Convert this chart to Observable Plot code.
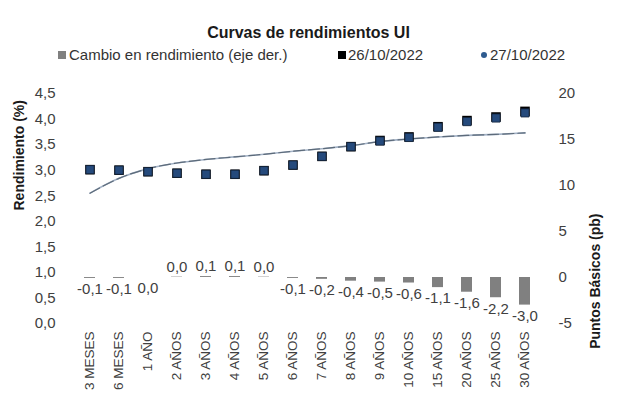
<!DOCTYPE html>
<html><head><meta charset="utf-8">
<script src="https://cdn.jsdelivr.net/npm/d3@7"></script>
<script src="https://cdn.jsdelivr.net/npm/@observablehq/plot@0.6"></script>
<style>
body{margin:0;background:#fff;font-family:"Liberation Sans",Arial,sans-serif;}
#wrap{position:relative;width:617px;height:398px;overflow:hidden;}
#title{position:absolute;left:0;top:23px;width:617px;text-align:center;font-weight:bold;font-size:16px;line-height:20px;color:#1a1a1a;}
#legend{position:absolute;top:45px;left:0;width:617px;height:20px;font-size:15px;line-height:20px;color:#333;}
.item{position:absolute;top:0;white-space:nowrap;}
.sw{display:inline-block;vertical-align:middle;position:relative;top:-1px;}
#chart{position:absolute;top:65px;left:0;}
</style></head>
<body><div id="wrap">
<div id="title">Curvas de rendimientos UI</div>
<div id="legend">
  <span class="item" style="left:58px"><span class="sw" style="width:8px;height:8px;background:#808080;margin-right:3px"></span>Cambio en rendimiento (eje der.)</span>
  <span class="item" style="left:338px"><span class="sw" style="width:8px;height:8px;background:#000;margin-right:2px"></span>26/10/2022</span>
  <span class="item" style="left:481px"><span class="sw" style="width:6px;height:6px;border-radius:50%;background:#2e5b8f;margin-right:3px"></span>27/10/2022</span>
</div>
<div id="chart"></div>
</div>
<script>
const categories = ["3 MESES","6 MESES","1 AÑO","2 AÑOS","3 AÑOS","4 AÑOS","5 AÑOS","6 AÑOS","7 AÑOS","8 AÑOS","9 AÑOS","10 AÑOS","15 AÑOS","20 AÑOS","25 AÑOS","30 AÑOS"];
const yield2610 = [3.01,3.00,2.97,2.94,2.92,2.92,2.99,3.10,3.27,3.46,3.58,3.65,3.85,3.97,4.04,4.15];
const yield2710 = [3.01,3.00,2.97,2.94,2.92,2.92,2.99,3.10,3.27,3.46,3.57,3.64,3.84,3.95,4.02,4.12];
const trend = [2.55,2.84,3.03,3.14,3.21,3.26,3.31,3.37,3.42,3.48,3.56,3.61,3.65,3.68,3.70,3.73];
const changeBp = [-0.1,-0.1,0.0,0.04,0.1,0.1,0.04,-0.1,-0.2,-0.4,-0.5,-0.6,-1.1,-1.6,-2.2,-3.0];
const leftTicks = [0,0.5,1,1.5,2,2.5,3,3.5,4,4.5];
const rightTicks = [-5,0,5,10,15,20];

const LMAX = 4.5, RMIN = -5, RMAX = 20;
const toLeft = bp => (bp - RMIN) * LMAX / (RMAX - RMIN);
const fromLeft = v => v * (RMAX - RMIN) / LMAX + RMIN;
const comma = (v, d) => v.toFixed(d).replace(".", ",");
const rows = categories.map((c, i) => ({c, a: yield2610[i], b: yield2710[i], t: trend[i], bp: changeBp[i]}));
const font = '"Liberation Sans", Arial, sans-serif';

const plot = Plot.plot({
  width: 617, height: 333,
  marginTop: 28, marginBottom: 75, marginLeft: 68, marginRight: 72,
  style: {fontFamily: font, fontSize: "15px", color: "#404040", background: "#fff"},
  x: {type: "band", domain: categories, padding: 0},
  y: {domain: [0, LMAX]},
  marks: [
    Plot.axisY({ticks: leftTicks, tickFormat: v => comma(v, 1), tickSize: 0, tickPadding: 13, label: null, fontSize: 15}),
    Plot.axisY({anchor: "right", ticks: rightTicks.map(toLeft), tickFormat: v => String(Math.round(fromLeft(v))), tickSize: 0, tickPadding: 13, label: null, fontSize: 15}),
    Plot.axisX({tickRotate: -90, tickSize: 0, tickPadding: 8, label: null, fontSize: 13.5}),
    Plot.barY(rows, {x: "c", y1: () => toLeft(0), y2: d => toLeft(d.bp), fill: "#808080", insetLeft: 9, insetRight: 9}),
    Plot.text(rows.filter(d => d.bp <= 0), {x: "c", y: d => toLeft(d.bp), text: d => comma(d.bp, 1), dy: 11, fontSize: 15, fill: "#404040"}),
    Plot.text(rows.filter(d => d.bp > 0), {x: "c", y: d => toLeft(d.bp), text: d => comma(d.bp, 1), dy: -10, fontSize: 15, fill: "#404040"}),
    Plot.line(rows, {x: "c", y: "t", curve: "catmull-rom", stroke: "#a3b2c6", strokeWidth: 1.6}),
    Plot.line(rows, {x: "c", y: "t", curve: "catmull-rom", stroke: "#5d6b7a", strokeWidth: 1.2, strokeDasharray: "11,4"}),
    Plot.dot(rows, {x: "c", y: "a", symbol: "square", r: 5.4, fill: "#000", stroke: "none"}),
    Plot.dot(rows, {x: "c", y: "b", symbol: "square", r: 4.6, fill: "#254a7c", stroke: "#14263d", strokeWidth: 0.8}),
    Plot.text(["Rendimiento (%)"], {frameAnchor: "left", text: d => d, rotate: -90, dx: -49, dy: 2, fontWeight: "bold", fontSize: 14, fill: "#1a1a1a"}),
    Plot.text(["Puntos Básicos (pb)"], {frameAnchor: "right", text: d => d, rotate: -90, dx: 50, dy: 5, fontWeight: "bold", fontSize: 14, fill: "#1a1a1a"})
  ]
});
document.getElementById("chart").appendChild(plot);
</script>
</body></html>
